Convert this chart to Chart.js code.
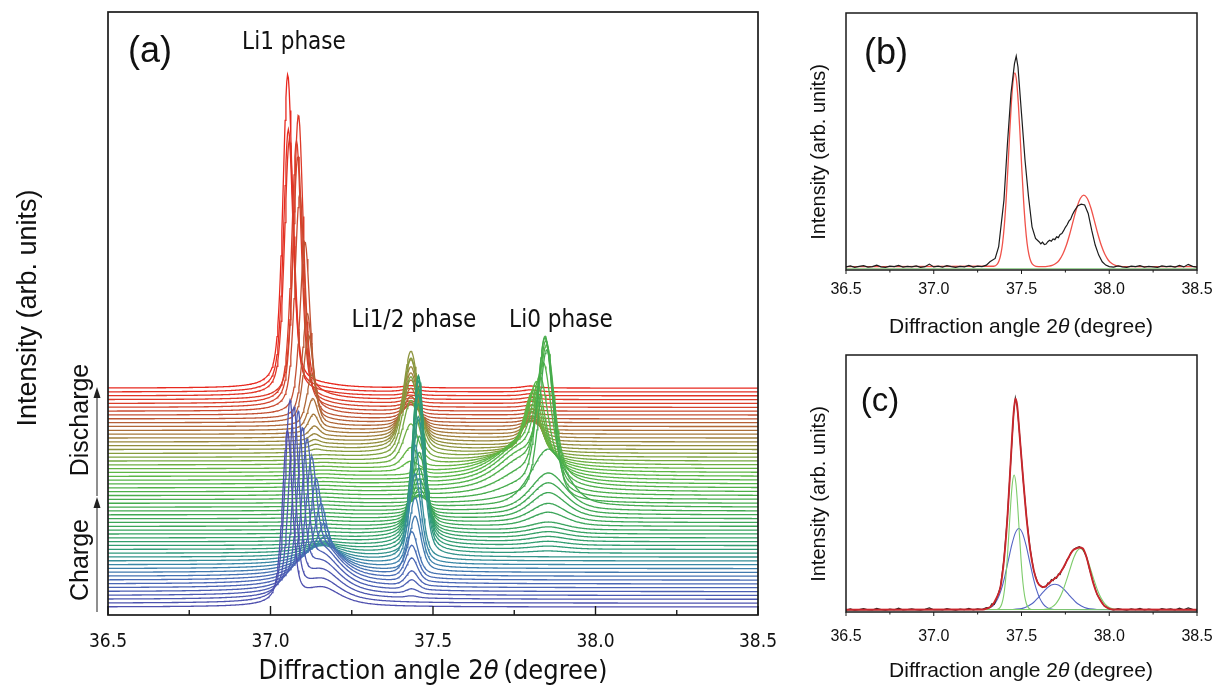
<!DOCTYPE html>
<html><head><meta charset="utf-8">
<script src="https://cdn.jsdelivr.net/npm/chart.js@4.4.0/dist/chart.umd.min.js"></script>
<style>
html,body{margin:0;padding:0;background:#fff;}
body{width:1216px;height:686px;position:relative;overflow:hidden;font-family:"Liberation Sans",Arial,sans-serif;color:#111;}
canvas{position:absolute;left:0;top:0;pointer-events:none;}
.t{position:absolute;white-space:nowrap;line-height:1;transform:translate(-50%,-50%);}
.n{font-family:"DejaVu Sans Condensed","DejaVu Sans",sans-serif;}
.r{transform:translate(-50%,-50%) rotate(-90deg);}
svg{position:absolute;left:0;top:0;}
</style></head><body>
<canvas id="ca" width="1216" height="686"></canvas>
<canvas id="cb" width="1300" height="686"></canvas>
<canvas id="cc" width="1300" height="686"></canvas>
<svg width="1216" height="686">
  <line x1="97" y1="612" x2="97" y2="506" stroke="#333" stroke-width="1.1"/>
  <polygon points="97,497 93.5,508 100.5,508" fill="#222"/>
  <line x1="97" y1="496" x2="97" y2="396" stroke="#333" stroke-width="1.1"/>
  <polygon points="97,387 93.5,398 100.5,398" fill="#222"/>
</svg>
<div class="t" style="left:150px;top:50px;font-size:36px">(a)</div>
<div class="t n" style="left:294px;top:41px;font-size:24px">Li1 phase</div>
<div class="t n" style="left:414px;top:319px;font-size:24px">Li1/2 phase</div>
<div class="t n" style="left:561px;top:319px;font-size:24px">Li0 phase</div>
<div class="t r" style="left:27px;top:308px;font-size:27px">Intensity (arb. units)</div>
<div class="t r" style="left:79px;top:420px;font-size:25px">Discharge</div>
<div class="t r" style="left:79px;top:560px;font-size:25px">Charge</div>
<div class="t n" style="left:433px;top:669px;font-size:27px">Diffraction angle 2<i>θ</i>&thinsp;(degree)</div>
<div class="t" style="left:886px;top:52px;font-size:36px">(b)</div>
<div class="t r" style="left:818px;top:152px;font-size:20px">Intensity (arb. units)</div>
<div class="t" style="left:1021px;top:325px;font-size:21px">Diffraction angle 2<i>θ</i>&thinsp;(degree)</div>
<div class="t" style="left:880px;top:399px;font-size:33px">(c)</div>
<div class="t r" style="left:818px;top:494px;font-size:20px">Intensity (arb. units)</div>
<div class="t" style="left:1021px;top:669px;font-size:21px">Diffraction angle 2<i>θ</i>&thinsp;(degree)</div>
<script>
// ---------- Panel (a): per-scan peak parameters (58 scans, bottom -> top) ----------
const li1Pos = [37.052,37.060,37.072,37.085,37.098,37.112,37.126,37.140,37.155,37.165,
 37.170,37.170,37.170,37.170,37.170,37.170,37.170,37.170,37.170,37.170,
 37.170,37.170,37.170,37.170,37.170,37.170,37.170,37.170,37.170,37.170,
 37.170,37.170,37.170,37.170,37.170,37.170,37.170,37.170,37.170,37.170,
 37.140,37.138,37.136,37.135,37.135,37.132,37.130,37.127,37.117,37.113,
 37.106,37.090,37.084,37.080,37.086,37.058,37.055,37.053];
const li1Amp = [172,196,182,170,145,124,98,70,42,22,
 10,4,0,0,0,0,0,0,0,0,
 0,0,0,0,0,0,0,0,0,0,
 0,0,0,0,0,0,0,0,0,0,
 2,3,4,6,10,18,30,50,86,104,
 172,216,250,262,284,255,262,313];
const li1Hump = [18,22,27,31,34,36,36,34,31,27,
 23,19,15,12,9,6,4,3,2,2,
 2,2,2,2,2,2,2,2,2,2,
 2,2,2,2,2,2,2,2,2,2,
 2,2,2,2,2,2,2,2,2,2,
 2,2,2,2,2,2,2,2];
const halfPos = [37.435,37.435,37.435,37.435,37.435,37.435,37.435,37.435,37.435,
 37.445,37.445,37.445,37.445,
 37.455,37.455,37.455,37.455,37.455,37.455,37.455,37.455,
 37.458,37.458,37.458,37.458,37.458,37.458,37.458,37.458,37.458,37.458,37.458,37.458,37.458,37.458,
 37.432,37.432,37.432,37.432,37.432,37.432,37.432,37.432,37.432,37.432,37.432,37.432,
 37.432,37.432,37.432,37.432,37.432,37.432,37.432,37.432,37.432,37.432,37.432];
const halfAmp = [0,0,2,5,10,15,24,33,43,55,
 70,90,115,140,158,168,170,164,150,130,
 110,90,70,50,35,22,12,6,3,2,
 2,2,3,4,6,10,20,40,60,80,
 95,98,86,75,65,54,42,30,20,14,
 10,8,6,5,4,3,3,2];
const halfWid = [0.022,0.022,0.022,0.022,0.022,0.022,0.022,0.022,0.022,0.022,
 0.022,0.022,0.022,0.022,0.022,0.022,0.022,0.022,0.022,0.022,
 0.022,0.022,0.022,0.022,0.022,0.022,0.022,0.022,0.022,0.022,
 0.022,0.022,0.022,0.022,0.022,
 0.028,0.028,0.028,0.028,0.028,0.028,0.028,0.028,0.028,0.028,0.028,0.028,
 0.028,0.028,0.028,0.028,0.028,0.028,0.028,0.028,0.028,0.028,0.028];
const li0Pos = [37.855,37.855,37.855,37.855,37.855,37.855,37.855,37.855,37.855,37.855,
 37.855,37.855,37.855,37.855,37.855,37.855,37.855,37.855,37.855,37.855,
 37.855,37.855,37.855,37.855,37.855,37.855,37.855,
 37.850,37.845,37.845,37.848,37.850,37.840,37.830,37.820,37.815,37.810,
 37.805,37.805,37.805,37.805,37.805,37.805,37.805,37.805,37.805,
 37.800,37.800,37.800,37.800,37.800,37.800,37.800,37.800,37.800,37.800,37.800,37.800];
const li0Amp = [0,0,0,0,0,0,0,0,0,0,
 0,0,0,0,2,3,4,5,6,7,
 8,14,19,26,32,38,58,150,156,146,
 135,125,100,80,70,64,60,58,56,52,
 46,40,34,26,20,14,9,6,4,2,
 2,2,2,2,2,2,2,2];
const li0Wid = [0.065,0.065,0.065,0.065,0.065,0.065,0.065,0.065,0.065,0.065,
 0.065,0.065,0.065,0.065,0.065,0.065,0.065,0.065,0.065,0.065,
 0.065,0.065,0.065,0.065,0.065,0.065,0.065,
 0.028,0.028,0.028,0.028,0.028,0.028,0.028,0.028,0.028,0.028,
 0.028,0.028,0.028,0.028,0.028,0.028,0.028,0.028,0.028,0.028,
 0.028,0.028,0.028,0.028,0.028,0.028,0.028,0.028,0.028,0.028,0.028];
const li0Hump = [0,0,0,0,0,0,0,0,0,0,
 0,0,0,0,0,0,0,0,0,0,
 0,0,0,0,0,0,0,
 6,12,20,28,32,34,34,32,28,22,16,10,6,3,1,
 0,0,0,0,0,0,0,0,0,0,0,0,0,0,0,0];
const xTicksA = [36.5, 37.0, 37.5, 38.0, 38.5];

// ---------- Panel (b): measured (black) and single-phase fit (red) ----------
const bMeasured = [
 [36.500,1.2],[36.525,1.6],[36.550,1.0],[36.575,1.4],[36.600,1.7],[36.625,1.1],[36.650,1.3],[36.675,1.9],
 [36.700,1.2],[36.725,1.0],[36.750,1.5],[36.775,1.3],[36.800,1.8],[36.825,1.1],[36.850,1.4],[36.875,1.2],
 [36.900,1.6],[36.925,1.0],[36.950,1.3],[36.975,2.3],[37.000,1.2],[37.025,1.5],[37.050,1.1],[37.075,1.7],
 [37.100,1.3],[37.125,1.0],[37.150,1.4],[37.175,1.2],[37.200,1.8],[37.225,1.1],[37.250,1.5],[37.275,1.3],
 [37.300,1.9],[37.320,3.2],[37.350,4.5],[37.370,9.1],[37.400,27.2],[37.420,49.2],[37.440,68.7],[37.460,80.3],
 [37.470,83.2],[37.480,79.0],[37.500,60.9],[37.520,42.8],[37.540,28.5],[37.560,16.8],[37.580,12.3],[37.600,11.0],
 [37.610,10.2],[37.620,10.8],[37.630,9.9],[37.640,10.1],[37.650,11.0],[37.660,11.6],[37.670,11.2],[37.680,12.1],
 [37.690,11.8],[37.700,12.9],[37.710,12.6],[37.720,13.8],[37.730,14.2],[37.740,15.3],[37.750,16.6],[37.760,17.6],
 [37.770,19.0],[37.780,19.8],[37.790,21.5],[37.800,22.8],[37.820,24.9],[37.840,25.6],[37.860,25.3],[37.880,22.0],
 [37.900,15.5],[37.920,9.7],[37.940,5.8],[37.960,3.2],[37.980,1.9],[38.000,1.3],[38.025,1.1],[38.050,1.6],
 [38.075,1.2],[38.100,1.0],[38.125,1.5],[38.150,1.3],[38.175,1.7],[38.200,1.1],[38.225,1.4],[38.250,1.2],
 [38.275,1.0],[38.300,1.6],[38.325,1.3],[38.350,1.5],[38.375,1.1],[38.400,1.8],[38.425,1.2],[38.450,2.2],
 [38.475,1.4],[38.500,1.1]];
const bFit = [
 [36.5,1.3],[37.342,1.45],[37.362,2.3],[37.372,3.6],[37.382,6.1],[37.392,10.3],[37.402,17.2],[37.412,26.9],
 [37.422,39.0],[37.432,52.4],[37.442,64.7],[37.452,73.5],[37.462,76.7],[37.472,73.5],[37.482,64.7],[37.492,52.4],
 [37.502,39.0],[37.512,26.9],[37.522,17.2],[37.532,10.3],[37.542,6.1],[37.552,3.6],[37.562,2.3],[37.582,1.45],
 [37.62,1.3],[37.655,1.5],[37.675,1.8],[37.695,2.5],[37.715,3.8],[37.735,6.1],[37.755,9.5],[37.775,14.0],
 [37.795,19.2],[37.815,24.2],[37.835,27.8],[37.855,29.1],[37.875,27.8],[37.895,24.2],[37.915,19.2],[37.935,14.0],
 [37.955,9.5],[37.975,6.1],[37.995,3.8],[38.015,2.5],[38.035,1.8],[38.055,1.5],[38.10,1.3],[38.5,1.3]];
const bBase = [[36.5,0.5],[38.5,0.5]];

// ---------- Panel (c): measured (black), total fit (red), components (green, blue) ----------
const cMeasured = [
 [36.500,0.8],[36.525,1.2],[36.550,0.7],[36.575,1.0],[36.600,1.3],[36.625,0.9],[36.650,0.8],[36.675,1.4],
 [36.700,1.0],[36.725,0.7],[36.750,1.1],[36.775,0.9],[36.800,1.5],[36.825,0.8],[36.850,1.0],[36.875,1.2],
 [36.900,0.9],[36.925,0.7],[36.950,1.1],[36.975,1.6],[37.000,0.9],[37.025,1.0],[37.050,0.8],[37.075,1.3],
 [37.100,1.0],[37.125,0.7],[37.150,1.1],[37.175,0.9],[37.200,1.4],[37.225,0.8],[37.250,1.2],[37.275,1.0],
 [37.300,1.7],[37.320,1.8],[37.330,3.2],[37.345,3.0],[37.360,5.5],[37.380,9.9],[37.400,20.5],[37.420,37.4],
 [37.440,60.0],[37.455,77.0],[37.465,83.4],[37.475,80.2],[37.490,68.5],[37.510,51.0],[37.530,36.0],[37.550,24.3],
 [37.570,16.0],[37.590,11.9],[37.600,10.6],[37.610,10.2],[37.620,9.5],[37.630,10.0],[37.640,9.8],[37.650,11.3],
 [37.660,11.0],[37.670,12.6],[37.680,12.2],[37.690,13.4],[37.700,13.1],[37.710,14.8],[37.720,14.6],[37.730,16.5],
 [37.740,17.2],[37.750,18.6],[37.760,20.4],[37.770,21.2],[37.780,22.9],[37.790,23.6],[37.800,24.5],[37.810,24.9],
 [37.830,25.4],[37.850,24.5],[37.870,21.6],[37.890,16.0],[37.910,11.2],[37.930,6.9],[37.950,4.7],[37.970,2.4],
 [37.990,1.7],[38.000,1.2],[38.025,0.8],[38.050,1.3],[38.075,1.0],[38.100,0.7],[38.125,1.2],[38.150,0.9],
 [38.175,1.4],[38.200,0.8],[38.225,1.1],[38.250,0.9],[38.275,0.7],[38.300,1.3],[38.325,1.0],[38.350,1.2],
 [38.375,0.8],[38.400,1.5],[38.425,0.9],[38.450,1.6],[38.475,1.1],[38.500,0.8]];
const cFit = [
 [36.5,0.9],[37.28,0.95],[37.30,1.3],[37.33,2.4],[37.36,5.8],[37.38,9.7],[37.40,20.1],[37.42,37.0],[37.44,60.4],
 [37.455,77.3],[37.465,83.1],[37.475,80.5],[37.49,68.2],[37.51,51.3],[37.53,35.7],[37.55,24.0],[37.57,16.2],
 [37.59,11.7],[37.61,10.0],[37.63,9.7],[37.65,10.8],[37.67,12.1],[37.69,13.0],[37.71,14.3],[37.73,16.2],
 [37.75,18.8],[37.77,21.4],[37.79,23.8],[37.81,24.7],[37.83,25.1],[37.85,24.7],[37.87,21.4],[37.89,16.2],
 [37.91,11.0],[37.93,7.1],[37.95,4.5],[37.97,2.6],[37.99,1.6],[38.02,0.95],[38.5,0.9]];
const cGreen1 = [
 [36.5,0.9],[37.358,1.0],[37.368,1.2],[37.378,1.8],[37.388,3.2],[37.398,6.2],[37.408,11.5],[37.418,19.8],
 [37.428,30.4],[37.438,41.5],[37.448,50.1],[37.458,53.3],[37.468,50.1],[37.478,41.5],[37.488,30.4],[37.498,19.8],
 [37.508,11.5],[37.518,6.2],[37.528,3.2],[37.538,1.8],[37.548,1.2],[37.558,1.0],[38.5,0.9]];
const cGreen2 = [
 [36.5,0.9],[37.615,1.0],[37.635,1.1],[37.655,1.4],[37.675,2.0],[37.695,3.2],[37.715,5.2],[37.735,8.2],
 [37.755,12.1],[37.775,16.4],[37.795,20.6],[37.815,23.6],[37.835,24.7],[37.855,23.6],[37.875,20.6],[37.895,16.4],
 [37.915,12.1],[37.935,8.2],[37.955,5.2],[37.975,3.2],[37.995,2.0],[38.015,1.4],[38.035,1.1],[38.055,1.0],[38.5,0.9]];
const cBlue1 = [
 [36.5,0.9],[37.285,1.0],[37.305,1.25],[37.325,1.8],[37.345,3.0],[37.365,5.2],[37.385,8.8],[37.405,13.9],
 [37.425,20.1],[37.445,26.2],[37.465,30.8],[37.485,32.5],[37.505,30.8],[37.525,26.2],[37.545,20.1],[37.565,13.9],
 [37.585,8.8],[37.605,5.2],[37.625,3.0],[37.645,1.8],[37.665,1.25],[37.685,1.0],[38.5,0.9]];
const cBlue2 = [
 [36.5,0.9],[37.45,1.0],[37.49,1.2],[37.51,1.5],[37.53,2.0],[37.55,2.8],[37.57,3.8],[37.59,5.2],[37.61,6.7],
 [37.63,8.2],[37.65,9.6],[37.67,10.5],[37.69,10.8],[37.71,10.5],[37.73,9.6],[37.75,8.2],[37.77,6.7],[37.79,5.2],
 [37.81,3.8],[37.83,2.8],[37.85,2.0],[37.87,1.5],[37.89,1.2],[37.93,1.0],[38.5,0.9]];

// ---------- helpers ----------
function pv(x, c, w, a, eta){ const u=(x-c)/w; return a*(eta/(1+u*u)+(1-eta)*Math.exp(-0.6931*u*u)); }
const scanCount = li1Amp.length;
const stepY = 3.84, firstY = 8;
const grid = []; for(let k=0;k<=800;k++) grid.push(36.5 + k*0.0025);
const stops = [[0,[78,79,174]],[0.12,[74,106,182]],[0.19,[58,134,168]],[0.25,[47,154,122]],[0.36,[58,164,90]],
 [0.5,[72,173,76]],[0.62,[94,184,68]],[0.7,[134,156,62]],[0.78,[161,124,60]],[0.86,[187,86,52]],[0.93,[218,62,42]],[1,[232,41,31]]];
function colorAt(t){
  for(let s=1;s<stops.length;s++){ if(t<=stops[s][0]){ const [t0,c0]=stops[s-1],[t1,c1]=stops[s]; const f=(t-t0)/(t1-t0);
    return 'rgb('+c0.map((v,j)=>Math.round(v+(c1[j]-v)*f)).join(',')+')'; } }
  return 'rgb(232,41,31)';
}
const toXY = arr => arr.map(p=>({x:p[0],y:p[1]}));

const frame = (o) => ({ id:'frame', afterDraw(chart){
  const {ctx, chartArea:a} = chart; const x = chart.scales.x;
  ctx.save(); ctx.strokeStyle='#1a1a1a'; ctx.lineWidth=o.lw;
  ctx.strokeRect(a.left, a.top, a.right-a.left, a.bottom-a.top);
  ctx.lineWidth=o.tw;
  x.ticks.forEach(t=>{ const px=x.getPixelForValue(t.value);
    const major=Math.abs(t.value*2-Math.round(t.value*2))<1e-6; const len=major?o.major:o.minor;
    ctx.beginPath(); ctx.moveTo(px,a.bottom); ctx.lineTo(px,a.bottom+o.dir*len); ctx.stroke(); });
  ctx.restore(); }});

function xScale(font, pad, h){
  return { type:'linear', min:36.5, max:38.5,
    grid:{display:false, drawTicks:false}, border:{display:false},
    ticks:{stepSize:0.25, autoSkip:false, maxRotation:0, padding:pad, color:'#111', font:font,
      callback:v=> (Math.abs(v*2-Math.round(v*2))<1e-6) ? Number(v).toFixed(1) : ''},
    afterFit:s=>{ s.height=h; } };
}
const common = { responsive:false, animation:false, events:[],
  plugins:{legend:{display:false}, tooltip:{enabled:false}},
  elements:{point:{radius:0}} };

// ---------- Panel (a) ----------
const dsA = [];
for(let i=0;i<scanCount;i++){
  const base = firstY + stepY*i;
  const data = grid.map(x=>({x, y: base
    + pv(x, li1Pos[i], 0.018, li1Amp[i], 0.5)
    + pv(x, 37.16, 0.07, li1Hump[i], 0.8)
    + pv(x, halfPos[i], halfWid[i], halfAmp[i], 0.5)
    + pv(x, li0Pos[i], li0Wid[i], li0Amp[i], 0.5)
    + pv(x, 37.77, 0.09, li0Hump[i], 0.7)}));
  dsA.push({data, borderColor:colorAt(i/(scanCount-1)), borderWidth:1.3, tension:0});
}
new Chart(document.getElementById('ca'), { type:'line', data:{datasets:dsA},
  options:Object.assign({}, common, {
    layout:{padding:{left:108,right:458,top:12,bottom:31}},
    scales:{ x:xScale({family:'DejaVu Sans Condensed', size:19}, 16, 40), y:{display:false,min:0,max:603} } }),
  plugins:[frame({lw:1.7,tw:1.4,major:9,minor:5,dir:-1})] });

// ---------- Panel (b) ----------
new Chart(document.getElementById('cb'), { type:'line', data:{datasets:[
    {data:toXY(bMeasured), borderColor:'#1c1c1c', borderWidth:1.2, tension:0},
    {data:toXY(bFit), borderColor:'#f0524a', borderWidth:1.3, cubicInterpolationMode:'monotone'},
    {data:toXY(bBase), borderColor:'#9fd49a', borderWidth:1.2, tension:0}]},
  options:Object.assign({}, common, {
    layout:{padding:{left:846,right:103,top:13,bottom:386}},
    scales:{ x:xScale({family:'Liberation Sans', size:16}, 10, 30), y:{display:false,min:0,max:100} } }),
  plugins:[frame({lw:1.5,tw:1,major:4,minor:2.5,dir:1})] });

// ---------- Panel (c) ----------
new Chart(document.getElementById('cc'), { type:'line', data:{datasets:[
    {data:toXY(cFit), borderColor:'#c8262c', borderWidth:1.9, cubicInterpolationMode:'monotone'},
    {data:toXY(cMeasured), borderColor:'#222', borderWidth:1.1, tension:0},
    {data:toXY(cGreen1), borderColor:'#7fcc6c', borderWidth:1.1, cubicInterpolationMode:'monotone'},
    {data:toXY(cGreen2), borderColor:'#7fcc6c', borderWidth:1.1, cubicInterpolationMode:'monotone'},
    {data:toXY(cBlue1), borderColor:'#5464c4', borderWidth:1.1, cubicInterpolationMode:'monotone'},
    {data:toXY(cBlue2), borderColor:'#5464c4', borderWidth:1.1, cubicInterpolationMode:'monotone'}]},
  options:Object.assign({}, common, {
    layout:{padding:{left:846,right:103,top:355,bottom:44}},
    scales:{ x:xScale({family:'Liberation Sans', size:16}, 15, 30), y:{display:false,min:0,max:100} } }),
  plugins:[frame({lw:1.5,tw:1,major:4,minor:2.5,dir:1})] });
</script>
</body></html>
